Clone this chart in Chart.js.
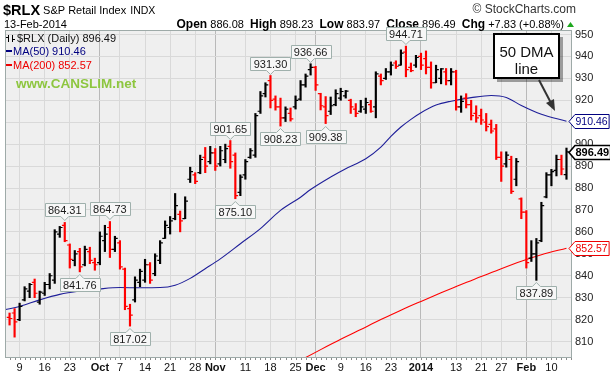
<!DOCTYPE html>
<html><head><meta charset="utf-8">
<script src="https://cdn.jsdelivr.net/npm/chart.js@4.4.1/dist/chart.umd.min.js"></script>
<style>html,body{margin:0;padding:0;background:#fff;}#wrap{width:610px;height:374px;position:relative}canvas{display:block}</style>
</head><body><div id="wrap"><canvas id="c" width="610" height="374" style="width:610px;height:374px"></canvas></div>
<script>
// ---------- DATA ----------
const DATES = [
'2013-09-05','2013-09-06','2013-09-09','2013-09-10','2013-09-11','2013-09-12','2013-09-13','2013-09-16','2013-09-17','2013-09-18','2013-09-19','2013-09-20','2013-09-23','2013-09-24','2013-09-25','2013-09-26','2013-09-27','2013-09-30',
'2013-10-01','2013-10-02','2013-10-03','2013-10-04','2013-10-07','2013-10-08','2013-10-09','2013-10-10','2013-10-11','2013-10-14','2013-10-15','2013-10-16','2013-10-17','2013-10-18','2013-10-21','2013-10-22','2013-10-23','2013-10-24','2013-10-25','2013-10-28','2013-10-29','2013-10-30','2013-10-31',
'2013-11-01','2013-11-04','2013-11-05','2013-11-06','2013-11-07','2013-11-08','2013-11-11','2013-11-12','2013-11-13','2013-11-14','2013-11-15','2013-11-18','2013-11-19','2013-11-20','2013-11-21','2013-11-22','2013-11-25','2013-11-26','2013-11-27','2013-11-29',
'2013-12-02','2013-12-03','2013-12-04','2013-12-05','2013-12-06','2013-12-09','2013-12-10','2013-12-11','2013-12-12','2013-12-13','2013-12-16','2013-12-17','2013-12-18','2013-12-19','2013-12-20','2013-12-23','2013-12-24','2013-12-26','2013-12-27','2013-12-30','2013-12-31',
'2014-01-02','2014-01-03','2014-01-06','2014-01-07','2014-01-08','2014-01-09','2014-01-10','2014-01-13','2014-01-14','2014-01-15','2014-01-16','2014-01-17','2014-01-21','2014-01-22','2014-01-23','2014-01-24','2014-01-27','2014-01-28','2014-01-29','2014-01-30','2014-01-31',
'2014-02-03','2014-02-04','2014-02-05','2014-02-06','2014-02-07','2014-02-10','2014-02-11','2014-02-12','2014-02-13'];

const OPEN = [821,823,820,829,833,837,828,832,836,838,859,863,854,847,851,845,851,846,
846,856,862,852,855,843,825,829,837,838,845,841,847,857,862,866,868,866,884,886,887,894,892,
896,891,893,899,895,878,886,894,895,915,923,929,920.5,917,912,914,917,920.5,927,934,
935,923,917,915,918,921,922,920,916,915,916,918,917,931,930,933,937,936,942,935,936,
940,939,935,928,930,933,929,933,917,921,918,914,913,910,909,907,894,891,893,884,875,
869,848,850,856,876,886,888,893,886.08];
const HIGH = [823,825,827.5,835,836.5,838.5,833,837,841,861,862.5,864.31,854.5,851.5,852.5,853.5,853,848,
860,863,864.73,858,856,843.5,827,839.5,843,847.5,846,850,856,865,867,877.5,869.5,876,889.5,887,895,898.5,899,
898,899,900,901.65,896,886,893,898,914,924,928,931.30,922,921,917,916.5,922,929,932,936.66,
935.5,923.2,921.7,921.5,924.8,925.5,924.5,920.5,918.5,920,921,920,933,932,934.5,937.5,938,943,944.71,937,940.5,
941.5,942.5,937.5,936,934.5,934.5,934.5,933.7,922,923,920,917.5,916,914,911,909,896.5,896.5,894.5,893.5,875.5,
869.7,856,857,873.5,887,888.5,895,895,898.23];
const LOW = [817.5,812,819.5,828.5,830,830,827,831,834,836.5,857.5,855.5,843.5,844.5,841.76,844.5,845.5,842.5,
845,851,848.3,851,843,824.5,817.02,828,835,837,836.5,840,845.5,857,859,865.5,860,866,882.5,882,886.5,887,891,
888,890,891.5,889,875.10,876.5,884,893.5,894,914,921.5,916.5,915.5,908.23,910.3,910.5,916,920,926,931.5,
924.5,915.6,909.38,913.5,917.5,920,921,914,912.5,914.5,914,914.5,912,927,929.5,931.5,934.5,936,930.7,933,935,
934,932,925.5,928,927.5,927,927,915.5,914.5,916.5,911,910,909,906,905,893,883,889.5,877.5,881,866,
843.5,846.5,837.89,855.5,875.5,881,885.5,886,883.97];
const CLOSE = [820.5,819,826,834,836,832,832.5,836,840,860,862,856,847.5,850,844,852,847,845,
858,859,852,857,844,826,822,838,842,845,838,849,855,863,865,872,865,874,887.5,883,893,890,896,
890,897,898,892,876.5,885,892,897,913,922,927,920,917,912,916,911.5,920,927,931,935,
927,917.5,913,917.5,923,924,924.2,917,914,917,919,915,932,929,933,936,935.5,941.5,934,933.5,939.5,
936,935,928,934,934.3,929,933,917,919.5,918,913,912,911,908,906,894,890,895,878.5,892,869,
846,850,855,872,886,887.5,893,888.66,896.49];

// 50-day and 200-day moving averages (x = trading-day index)
const MA50_X = [-1,2,6,10,14,18,22,26,30,33,36,39,42,46,50,54,58,60,64,67,71,74,76,78,80,82,85,88,92,96,99,102,106,111];
const MA50_Y = [824.5,826,829,831.5,833,834,834.6,834.5,834.6,835.7,838.8,843.2,847.7,854.6,861.5,869.8,875.8,879.3,885,888.8,893.3,898.6,903.5,907.8,911.3,914.3,917.8,919.6,921.2,922.2,921.3,917.6,913.6,910.46];
const MA200_X = [58,62,66,70,74,78,82,86,90,94,98,102,106,111];
const MA200_Y = [801.5,806.3,811,815.5,820,824.3,828.3,832.2,836,839.6,843.2,846.6,849.6,852.57];

// x-axis tick labels
const TICK_DATES = ['2013-09-09','2013-09-16','2013-09-23','2013-10-01','2013-10-07','2013-10-14','2013-10-21','2013-10-28','2013-11-01','2013-11-11','2013-11-18','2013-11-25','2013-12-02','2013-12-09','2013-12-16','2013-12-23','2014-01-02','2014-01-13','2014-01-21','2014-01-27','2014-02-03','2014-02-10'];
const TICK_LABELS = ['9','16','23','Oct','7','14','21','28','Nov','11','18','25','Dec','9','16','23','2014','13','21','27','Feb','10'];
const MONTH_LABELS = ['Oct','Nov','Dec','2014','Feb'];
const Y_TICKS = [810,820,830,840,850,860,870,880,890,900,910,920,930,940,950];

// price callouts (dates of marked highs / lows)
const ANNO_DATES = ['2013-09-20','2013-09-25','2013-10-03','2013-10-09','2013-11-06','2013-11-07','2013-11-18','2013-11-20','2013-11-29','2013-12-04','2013-12-27','2014-02-05'];
const ANNO_SIDE  = ['high','low','high','low','high','low','high','low','high','low','high','low'];

// ---------- CHART ----------
const FONT = '"Liberation Sans", Arial, sans-serif';
const N = DATES.length;
const last = N - 1;
const barColors = CLOSE.map((c, i) => (i === 0 ? c >= OPEN[i] : c >= CLOSE[i - 1]) ? '#000000' : '#ff0000');
const tickIdx = TICK_DATES.map(d => DATES.indexOf(d));
const labelOf = {}; tickIdx.forEach((v, k) => labelOf[v] = TICK_LABELS[k]);
const monthIdx = new Set(tickIdx.filter((v, k) => MONTH_LABELS.includes(TICK_LABELS[k])));

function fmt(v){ return v.toFixed(2); }

const bgPlugin = {
  id: 'bg',
  beforeDraw(chart) {
    const {ctx, chartArea: a} = chart;
    ctx.save();
    ctx.fillStyle = '#ffffff';
    ctx.fillRect(0, 0, chart.width, chart.height);
    ctx.fillStyle = '#efefef';
    ctx.fillRect(a.left, a.top, a.right - a.left, a.bottom - a.top);
    ctx.restore();
  }
};

const ohlcPlugin = {
  id: 'ohlcTicks',
  afterDatasetsDraw(chart) {
    const {ctx, chartArea: a, scales: {x: xs, y: ys}} = chart;
    ctx.save();
    ctx.beginPath(); ctx.rect(a.left, a.top, a.right - a.left, a.bottom - a.top); ctx.clip();
    ctx.lineWidth = 1.2;
    for (let i = 0; i < N; i++) {
      const x = xs.getPixelForValue(i);
      const yo = ys.getPixelForValue(OPEN[i]), yc = ys.getPixelForValue(CLOSE[i]);
      ctx.strokeStyle = barColors[i];
      ctx.beginPath();
      ctx.moveTo(x - 2.8, yo); ctx.lineTo(x, yo);
      ctx.moveTo(x, yc); ctx.lineTo(x + 2.8, yc);
      ctx.stroke();
    }
    ctx.restore();
  }
};

function callout(ctx, x, y, text, above) {
  ctx.font = '11px ' + FONT;
  const w = Math.round(ctx.measureText(text).width) + 6, h = 13;
  const bx = Math.round(x - w / 2) + 0.5;
  const by = above ? Math.round(y - 6 - h) + 0.5 : Math.round(y + 6) + 0.5;
  ctx.fillStyle = '#f7f7f7';
  ctx.strokeStyle = '#9fb0ac';
  ctx.lineWidth = 1;
  ctx.beginPath();
  if (above) {
    ctx.moveTo(bx, by); ctx.lineTo(bx + w, by); ctx.lineTo(bx + w, by + h);
    ctx.lineTo(x + 4, by + h); ctx.lineTo(x, by + h + 4); ctx.lineTo(x - 4, by + h);
    ctx.lineTo(bx, by + h); ctx.closePath();
  } else {
    ctx.moveTo(bx, by); ctx.lineTo(x - 4, by); ctx.lineTo(x, by - 4); ctx.lineTo(x + 4, by);
    ctx.lineTo(bx + w, by); ctx.lineTo(bx + w, by + h); ctx.lineTo(bx, by + h); ctx.closePath();
  }
  ctx.fill(); ctx.stroke();
  ctx.fillStyle = '#1a1a1a';
  ctx.textAlign = 'center'; ctx.textBaseline = 'middle';
  ctx.fillText(text, x, by + h / 2 + 0.5);
}

function axisBox(ctx, x0, y, text, color, bold) {
  ctx.font = (bold ? 'bold 11px ' : '10.5px ') + FONT;
  const w = ctx.measureText(text).width;
  y = Math.round(y) + 0.5;
  ctx.beginPath();
  ctx.moveTo(x0 - 3, y); ctx.lineTo(x0 + 3, y - 7); ctx.lineTo(x0 + 5 + w, y - 7);
  ctx.lineTo(x0 + 5 + w, y + 7); ctx.lineTo(x0 + 3, y + 7); ctx.closePath();
  ctx.fillStyle = '#ffffff'; ctx.fill();
  ctx.lineWidth = bold ? 1.6 : 1; ctx.strokeStyle = color; ctx.stroke();
  ctx.fillStyle = color; ctx.textAlign = 'left'; ctx.textBaseline = 'middle';
  ctx.fillText(text, x0 + 3.5, y + 0.5);
}

const decoPlugin = {
  id: 'deco',
  afterDraw(chart) {
    const {ctx, chartArea: a, scales: {x: xs, y: ys}} = chart;
    ctx.save();
    // daily minor ticks under the plot
    ctx.fillStyle = '#8a8a8a';
    for (let i = 0; i < N + 2; i++) {
      const x = Math.round(xs.getPixelForValue(i));
      if (x > a.left && x < a.right) ctx.fillRect(x, a.bottom + 1, 1, 2);
    }
    // plot border
    ctx.strokeStyle = '#9eaaa8'; ctx.lineWidth = 1;
    ctx.strokeRect(a.left + 0.5, a.top + 0.5, a.right - a.left - 1, a.bottom - a.top);

    // header
    ctx.textBaseline = 'alphabetic'; ctx.textAlign = 'left';
    ctx.fillStyle = '#000';
    ctx.font = 'bold 14.5px ' + FONT; ctx.fillText('$RLX', 3, 15);
    const w0 = ctx.measureText('$RLX').width;
    ctx.font = '11px ' + FONT; ctx.fillText('S&P Retail Index', 3 + w0 + 3, 14);
    const w1 = ctx.measureText('S&P Retail Index').width;
    ctx.font = '10.5px ' + FONT; ctx.fillText('INDX', 3 + w0 + 3 + w1 + 4, 14);
    ctx.fillStyle = '#333'; ctx.font = '12px ' + FONT; ctx.textAlign = 'right';
    ctx.fillText('\u00A9 StockCharts.com', 576, 13);
    ctx.textAlign = 'left'; ctx.fillStyle = '#000';
    ctx.font = '11px ' + FONT; ctx.fillText('13-Feb-2014', 4, 28);
    const o = OPEN[last], h = HIGH[last], l = LOW[last], c = CLOSE[last], p = CLOSE[last - 1];
    const chg = c - p, pct = chg / p * 100;
    const parts = [['Open', 1], [' ' + fmt(o) + '  ', 0], ['High', 1], [' ' + fmt(h) + '  ', 0], ['Low', 1], [' ' + fmt(l) + '  ', 0],
                   ['Close', 1], [' ' + fmt(c) + '  ', 0], ['Chg', 1], [' +' + fmt(chg) + ' (+' + fmt(pct) + '%)', 0]];
    let tw = 0;
    parts.forEach(([t, b]) => { ctx.font = (b ? 'bold 12px ' : '11px ') + FONT; tw += ctx.measureText(t).width; });
    let x = 564 - tw;
    parts.forEach(([t, b]) => { ctx.font = (b ? 'bold 12px ' : '11px ') + FONT; ctx.fillText(t, x, 28); x += ctx.measureText(t).width; });
    ctx.fillStyle = '#1fa81f';
    ctx.beginPath(); ctx.moveTo(567, 27); ctx.lineTo(574, 27); ctx.lineTo(570.5, 22); ctx.closePath(); ctx.fill();

    // legend inside plot
    ctx.strokeStyle = '#000'; ctx.lineWidth = 1;
    ctx.beginPath();
    ctx.moveTo(8.5, 35); ctx.lineTo(8.5, 42); ctx.moveTo(6, 37.5); ctx.lineTo(8.5, 37.5);
    ctx.moveTo(12.5, 35); ctx.lineTo(12.5, 42); ctx.moveTo(12.5, 39.5); ctx.lineTo(15, 39.5);
    ctx.stroke();
    ctx.fillStyle = '#111'; ctx.font = '11px ' + FONT;
    ctx.fillText('$RLX (Daily) ' + fmt(CLOSE[last]), 17, 42);
    ctx.fillStyle = '#000080'; ctx.fillRect(6, 50, 6, 2);
    ctx.fillText('MA(50) ' + fmt(MA50_Y[MA50_Y.length - 1]), 13, 55);
    ctx.fillStyle = '#ee0000'; ctx.fillRect(6, 64, 6, 2);
    ctx.fillText('MA(200) ' + fmt(MA200_Y[MA200_Y.length - 1]), 13, 69);
    ctx.fillStyle = '#8dc63f'; ctx.font = 'bold 13.5px ' + FONT;
    ctx.fillText('www.CANSLIM.net', 16, 88);

    // callouts
    ANNO_DATES.forEach((d, k) => {
      const i = DATES.indexOf(d);
      const v = ANNO_SIDE[k] === 'high' ? HIGH[i] : LOW[i];
      callout(ctx, xs.getPixelForValue(i), ys.getPixelForValue(v), fmt(v), ANNO_SIDE[k] === 'high');
    });

    // 50 DMA note
    ctx.fillStyle = 'rgba(0,0,0,0.35)'; ctx.fillRect(497, 37, 66, 45);
    ctx.fillStyle = '#fff'; ctx.fillRect(494, 34, 65, 44);
    ctx.strokeStyle = '#000'; ctx.lineWidth = 2; ctx.strokeRect(494, 34, 65, 44);
    ctx.fillStyle = '#111'; ctx.font = '15px ' + FONT; ctx.textAlign = 'center';
    ctx.fillText('50 DMA', 526.5, 53); ctx.fillText('line', 526.5, 70);
    ctx.strokeStyle = '#333'; ctx.lineWidth = 2;
    ctx.beginPath(); ctx.moveTo(539, 80); ctx.lineTo(551, 103); ctx.stroke();
    ctx.fillStyle = '#333';
    ctx.beginPath(); ctx.moveTo(555, 111); ctx.lineTo(546, 103); ctx.lineTo(554, 99); ctx.closePath(); ctx.fill();

    // right axis value boxes
    const ax = a.right;
    axisBox(ctx, ax, ys.getPixelForValue(MA50_Y[MA50_Y.length - 1]), fmt(MA50_Y[MA50_Y.length - 1]), '#000080', false);
    axisBox(ctx, ax, ys.getPixelForValue(MA200_Y[MA200_Y.length - 1]), fmt(MA200_Y[MA200_Y.length - 1]), '#ee0000', false);
    axisBox(ctx, ax, ys.getPixelForValue(CLOSE[last]), fmt(CLOSE[last]), '#000000', true);
    ctx.restore();
  }
};

new Chart(document.getElementById('c'), {
  type: 'bar',
  data: {
    datasets: [
      { type: 'line', label: 'MA(50)', data: MA50_X.map((x, k) => ({x, y: MA50_Y[k]})), borderColor: '#1f1f99', borderWidth: 1.1,
        pointRadius: 0, cubicInterpolationMode: 'monotone', order: 2 },
      { type: 'line', label: 'MA(200)', data: MA200_X.map((x, k) => ({x, y: MA200_Y[k]})), borderColor: '#ff0000', borderWidth: 1.1,
        pointRadius: 0, cubicInterpolationMode: 'monotone', order: 2 },
      { type: 'bar', label: '$RLX', data: DATES.map((d, i) => ({x: i, y: [LOW[i], HIGH[i]]})), backgroundColor: barColors,
        barThickness: 1.5, borderWidth: 0, grouped: false, order: 1 }
    ]
  },
  options: {
    responsive: false, animation: false, devicePixelRatio: 1,
    layout: { padding: { left: 5, top: 30, right: 0, bottom: 0 } },
    plugins: { legend: { display: false }, tooltip: { enabled: false }, title: { display: false } },
    scales: {
      x: {
        type: 'linear', min: -0.91, max: 112.1, offset: false,
        afterBuildTicks: s => { s.ticks = tickIdx.map(v => ({value: v})); },
        afterFit: s => { s.height = 17; },
        grid: { offset: false, drawTicks: false, color: c => (c.tick && monthIdx.has(c.tick.value)) ? '#b9b9b9' : '#d9d9d9', lineWidth: 1 },
        border: { display: false },
        ticks: { autoSkip: false, maxRotation: 0, padding: 4, color: '#111',
          font: c => ({ family: FONT, size: 11, weight: (c.tick && monthIdx.has(c.tick.value)) ? 'bold' : 'normal' }),
          callback: v => labelOf[v] || '' }
      },
      y: {
        type: 'linear', position: 'right', min: 802.94, max: 952.05,
        afterBuildTicks: s => { s.ticks = Y_TICKS.map(v => ({value: v})); },
        afterFit: s => { s.width = 38; },
        grid: { drawTicks: false, color: '#d9d9d9' },
        border: { display: false },
        ticks: { padding: 3, color: '#222', font: { family: FONT, size: 11 }, callback: v => String(v) }
      }
    }
  },
  plugins: [bgPlugin, ohlcPlugin, decoPlugin]
});
</script></body></html>
